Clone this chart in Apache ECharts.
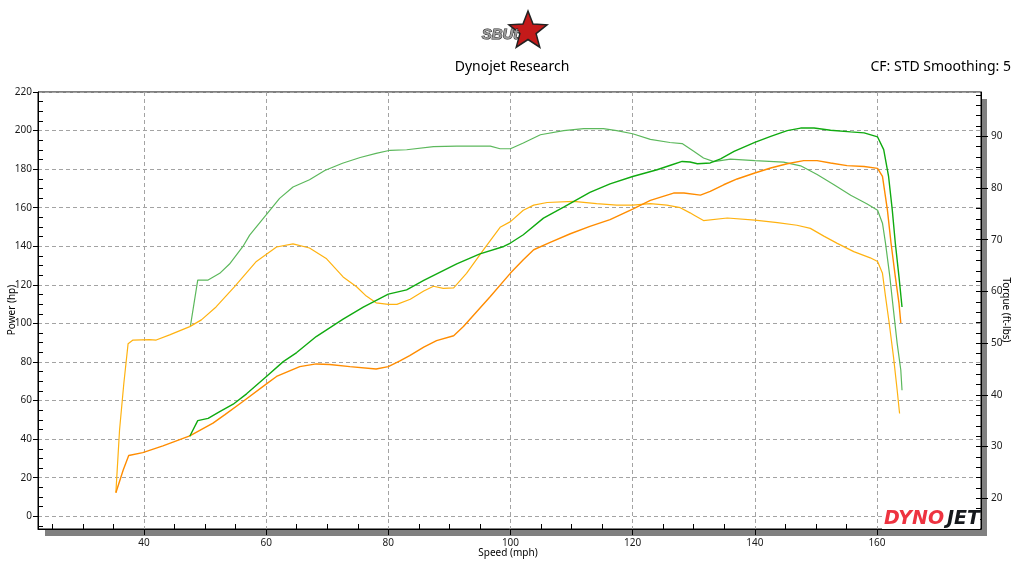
<!DOCTYPE html>
<html><head><meta charset="utf-8">
<script src="https://cdn.jsdelivr.net/npm/echarts@6/dist/echarts.min.js"></script>
<style>html,body{margin:0;padding:0;background:#fff}#c{width:1024px;height:576px}</style>
</head><body><div id="c"></div>
<script>
// ---- tick values ----
const speedTicks = [40, 60, 80, 100, 120, 140, 160];
const speedMinor = [25, 30, 35, 45, 50, 55, 65, 70, 75, 85, 90, 95, 105, 110, 115, 125, 130, 135, 145, 150, 155, 165, 170, 175];
const powerTicks = [0, 20, 40, 60, 80, 100, 120, 140, 160, 180, 200, 220];
const powerMinor = [-5, 5, 10, 15, 25, 30, 35, 45, 50, 55, 65, 70, 75, 85, 90, 95, 105, 110, 115, 125, 130, 135, 145, 150, 155, 165, 170, 175, 185, 190, 195, 205, 210, 215];
const torqueTicks = [20, 30, 40, 50, 60, 70, 80, 90];
const torqueMinor = [16, 18, 20, 22, 24, 26, 28, 30, 32, 34, 36, 38, 40, 42, 44, 46, 48, 50, 52, 54, 56, 58, 60, 62, 64, 66, 68, 70, 72, 74, 76, 78, 80, 82, 84, 86, 88, 90, 92, 94, 96, 98];

// ---- run 1 (green) ----
const p1Speed = [47.5, 48.8, 50.5, 52.4, 54.6, 56.8, 60, 62.8, 65, 68.2, 72.6, 75.9, 80, 83, 85.8, 88.5, 91.2, 95, 98.9, 100, 102.1, 105.4, 108.7, 113, 116.3, 120, 124, 126.2, 128.1, 129.4, 130.6, 132.7, 134.4, 136.6, 140, 142.6, 145.3, 147.5, 149.7, 152.4, 155.7, 157.9, 160.1, 161.1, 161.9, 162.5, 163, 163.6, 164.1];
const p1Power = [41.5, 49.6, 50.8, 54.3, 58.1, 63.5, 72.4, 80.2, 84.9, 93.2, 102.2, 108.5, 115.2, 117.4, 122.3, 126.6, 130.9, 136.1, 139.9, 141.7, 146, 154.6, 160.3, 167.9, 172.4, 176.2, 179.7, 182, 184, 183.7, 182.8, 183.2, 185.3, 189.2, 193.9, 197, 200, 201.3, 201.3, 200.2, 199.3, 198.8, 196.7, 190.1, 176.2, 159, 141.7, 124.3, 108.5];
const t1Speed = [47.6, 48.8, 50.5, 52.4, 54, 56.2, 57.3, 60, 62.2, 64.4, 67.1, 69.6, 72.5, 75.4, 78, 80.3, 83, 87.4, 91.2, 96.7, 98.3, 100, 102.1, 104.9, 108.7, 112, 115.2, 117.4, 120, 122.9, 126.1, 128.1, 130, 131.6, 133.3, 136, 140, 144.7, 147.5, 150.2, 152.9, 155.7, 158.4, 160.1, 160.9, 161.4, 162.1, 162.7, 163.3, 163.9, 164.1];
const t1Torque = [53.3, 62.2, 62.2, 63.5, 65.3, 68.7, 70.9, 74.8, 78.0, 80.2, 81.6, 83.4, 84.8, 85.9, 86.7, 87.3, 87.4, 88.0, 88.1, 88.1, 87.6, 87.6, 88.7, 90.3, 91.1, 91.5, 91.5, 91.1, 90.5, 89.4, 88.8, 88.6, 87.1, 85.8, 85.1, 85.6, 85.3, 85.0, 84.3, 82.6, 80.7, 78.6, 76.9, 75.7, 73.2, 69.3, 62.9, 56.4, 50.0, 44.8, 40.9];

// ---- run 2 (orange) ----
const p2Speed = [35.4, 36.6, 37.5, 39.8, 43.1, 47.5, 51.3, 53.2, 56.2, 60, 61.7, 65.5, 68.2, 70.4, 73.7, 78, 80, 81.9, 83.5, 85.8, 87.9, 90.7, 92.3, 94.5, 96.7, 100, 102.1, 103.8, 106.5, 109.8, 113, 116.3, 120, 122.9, 126.7, 128.4, 131.1, 132.7, 134.9, 137.1, 140, 142.6, 145.3, 148, 150.2, 152.4, 155.1, 157.9, 160.1, 160.9, 161.7, 162.3, 163, 163.6, 163.9];
const p2Power = [12.2, 24, 31.5, 33, 36.5, 41.7, 48.3, 52.6, 59.5, 68.5, 72.5, 77.6, 79, 78.7, 77.6, 76.4, 77.6, 80.6, 83.3, 87.7, 91.1, 93.6, 98.4, 106.2, 114, 126.1, 133, 138.2, 142, 146.5, 150.3, 153.8, 159.3, 163.8, 167.6, 167.6, 166.5, 168.5, 171.9, 174.9, 178, 180.6, 182.8, 184.4, 184.4, 183.2, 181.8, 181.4, 180.4, 176.2, 159, 141.7, 124.3, 110.5, 100.2];
const t2Speed = [35.4, 36, 36.7, 37.4, 38.2, 40.9, 42, 44.2, 47.5, 49.4, 51.8, 54.8, 58.4, 61.7, 64.4, 67.1, 69.9, 72.6, 74.8, 76.4, 78, 80, 81.4, 83.6, 85.8, 87.4, 89, 90.7, 92.8, 95.6, 98.3, 100, 102.1, 103.8, 106, 110.3, 114.1, 117.4, 120, 122.9, 125.6, 127.8, 129.4, 130, 131.6, 135.5, 140, 143.7, 146.9, 149.1, 151.3, 153.5, 156.2, 158.9, 160.1, 160.9, 161.4, 162, 162.7, 163.3, 163.7];
const t2Torque = [21.1, 33.2, 42.2, 49.9, 50.6, 50.7, 50.6, 51.6, 53.2, 54.5, 57.0, 60.9, 65.8, 68.6, 69.2, 68.4, 66.3, 62.8, 60.9, 59.1, 57.8, 57.5, 57.5, 58.5, 60.1, 61.0, 60.6, 60.7, 63.5, 68.1, 72.4, 73.5, 75.7, 76.7, 77.2, 77.4, 77.0, 76.7, 76.7, 77.0, 76.7, 76.2, 75.2, 74.8, 73.7, 74.2, 73.8, 73.3, 72.8, 72.2, 70.7, 69.3, 67.7, 66.5, 65.8, 63.5, 59.0, 53.9, 47.4, 41.0, 36.4];

function zip(a, b) { return a.map((v, i) => [v, b[i]]); }

const GL = 38, GR = 43, GT = 92, GB = 47;
const XMIN = 22.65, XMAX = 177.03;
const PMIN = -6.59, PMAX = 220;
const TMIN = 14.06, TMAX = 98.57;
const FONT = 'Noto Sans';
const labelColor = '#1a1a1a';

function starPoints(cx, cy, R, r) {
  const pts = [];
  for (let i = 0; i < 10; i++) {
    const a = -Math.PI / 2 + i * Math.PI / 5;
    const rr = i % 2 === 0 ? R : r;
    pts.push([cx + rr * Math.cos(a), cy + rr * Math.sin(a)]);
  }
  return pts;
}

const chart = echarts.init(document.getElementById('c'), null, {renderer: 'canvas'});
const option = {
  animation: false,
  backgroundColor: '#fff',
  grid: [
    {left: GL, right: GR, top: GT, bottom: GB, show: true, borderColor: '#000', borderWidth: 1, backgroundColor: 'transparent'},
    {left: GL, right: GR, top: GT, bottom: GB, show: false}
  ],
  xAxis: [
    {type: 'value', gridIndex: 0, position: 'bottom', min: XMIN, max: XMAX,
     axisLine: {show: true, onZero: false, lineStyle: {color: '#000', width: 1}},
     axisTick: {show: true, inside: false, length: 6, customValues: speedTicks, lineStyle: {color: '#000'}},
     axisLabel: {show: true, customValues: speedTicks, margin: 9, color: labelColor, fontFamily: FONT, fontSize: 10},
     splitLine: {show: true, lineStyle: {color: '#a3a3a3', type: [4, 3], width: 1}}},
    {type: 'value', gridIndex: 1, position: 'bottom', min: XMIN, max: XMAX,
     axisLine: {show: false, onZero: false},
     axisTick: {show: true, inside: true, length: 5, customValues: speedMinor, lineStyle: {color: '#000'}},
     axisLabel: {show: false}, splitLine: {show: false}}
  ],
  yAxis: [
    {type: 'value', gridIndex: 0, position: 'left', min: PMIN, max: PMAX,
     axisLine: {show: true, onZero: false, lineStyle: {color: '#000', width: 1}},
     axisTick: {show: true, inside: false, length: 5, customValues: powerTicks, lineStyle: {color: '#000'}},
     axisLabel: {show: true, customValues: powerTicks, margin: 6, color: labelColor, fontFamily: FONT, fontSize: 10},
     splitLine: {show: true, lineStyle: {color: '#a3a3a3', type: [4, 3], width: 1}}},
    {type: 'value', gridIndex: 0, position: 'right', min: TMIN, max: TMAX,
     axisLine: {show: true, onZero: false, lineStyle: {color: '#000', width: 1}},
     axisTick: {show: true, inside: false, length: 7, customValues: torqueTicks, lineStyle: {color: '#000'}},
     axisLabel: {show: true, customValues: torqueTicks, margin: 10, color: labelColor, fontFamily: FONT, fontSize: 10},
     splitLine: {show: false}},
    {type: 'value', gridIndex: 1, position: 'left', min: PMIN, max: PMAX,
     axisLine: {show: false, onZero: false},
     axisTick: {show: true, inside: true, length: 5, customValues: powerMinor, lineStyle: {color: '#000'}},
     axisLabel: {show: false}, splitLine: {show: false}},
    {type: 'value', gridIndex: 1, position: 'right', min: TMIN, max: TMAX,
     axisLine: {show: false, onZero: false},
     axisTick: {show: true, inside: true, length: 5, customValues: torqueMinor, lineStyle: {color: '#000'}},
     axisLabel: {show: false}, splitLine: {show: false}}
  ],
  series: [
    {name: 'Torque 1', type: 'line', xAxisIndex: 0, yAxisIndex: 1, data: zip(t1Speed, t1Torque), showSymbol: false, symbol: 'none', lineStyle: {color: '#5cb85c', width: 1.2}, z: 3},
    {name: 'Torque 2', type: 'line', xAxisIndex: 0, yAxisIndex: 1, data: zip(t2Speed, t2Torque), showSymbol: false, symbol: 'none', lineStyle: {color: '#ffb210', width: 1.2}, z: 3},
    {name: 'Power 2', type: 'line', xAxisIndex: 0, yAxisIndex: 0, data: zip(p2Speed, p2Power), showSymbol: false, symbol: 'none', lineStyle: {color: '#ff8c00', width: 1.4}, z: 4},
    {name: 'Power 1', type: 'line', xAxisIndex: 0, yAxisIndex: 0, data: zip(p1Speed, p1Power), showSymbol: false, symbol: 'none', lineStyle: {color: '#10aa10', width: 1.4}, z: 4}
  ],
  graphic: [
    {type: 'rect', z: -5, shape: {x: 45, y: 529.5, width: 942, height: 6.5}, style: {fill: '#808080'}},
    {type: 'rect', z: -5, shape: {x: 981, y: 99, width: 6, height: 437}, style: {fill: '#808080'}},
    {type: 'text', x: 512, y: 67, style: {text: 'Dynojet Research', font: '14px "Noto Sans"', fill: '#000', textAlign: 'center', textVerticalAlign: 'middle'}},
    {type: 'text', x: 1011, y: 67, style: {text: 'CF: STD Smoothing: 5', font: '14px "Noto Sans"', fill: '#000', textAlign: 'right', textVerticalAlign: 'middle'}},
    {type: 'text', x: 508, y: 553, style: {text: 'Speed (mph)', font: '10px "Noto Sans"', fill: '#000', textAlign: 'center', textVerticalAlign: 'middle'}},
    {type: 'text', x: 12, y: 310, rotation: Math.PI / 2, style: {text: 'Power (hp)', font: '10px "Noto Sans"', fill: '#000', textAlign: 'center', textVerticalAlign: 'middle'}},
    {type: 'text', x: 1006, y: 310, rotation: -Math.PI / 2, style: {text: 'Torque (ft-lbs)', font: '10px "Noto Sans"', fill: '#000', textAlign: 'center', textVerticalAlign: 'middle'}},
    {type: 'polygon', shape: {points: starPoints(528, 31, 20, 8.5)}, style: {fill: '#c41a1a', stroke: '#222', lineWidth: 1.5}},
    {type: 'text', x: 500, y: 35, z: 10, style: {text: 'SBUt', font: 'italic bold 15px "Liberation Sans"', fill: '#9a9a9a', stroke: '#222', lineWidth: 1, textAlign: 'center', textVerticalAlign: 'middle'}},
    {type: 'rect', z: 5, shape: {x: 882, y: 512, width: 98, height: 17}, style: {fill: '#fff'}},
    {type: 'text', x: 884, y: 529, z: 6, style: {text: 'DYNO', font: 'italic bold 19px "DejaVu Sans"', fill: '#ee3340', textAlign: 'left', textVerticalAlign: 'bottom'}},
    {type: 'text', x: 980, y: 529, z: 6, style: {text: 'JET', font: 'italic bold 19px "DejaVu Sans"', fill: '#15181c', textAlign: 'right', textVerticalAlign: 'bottom'}}
  ]
};
chart.setOption(option);
</script></body></html>
